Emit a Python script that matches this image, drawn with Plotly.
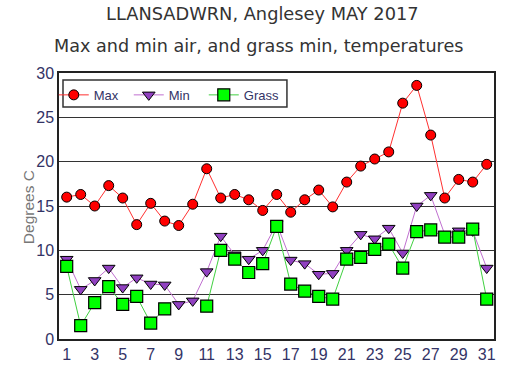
import plotly.graph_objects as go

days = list(range(1, 32))
max_temp = [16.0, 16.3, 15.0, 17.3, 15.9, 12.9, 15.3, 13.3, 12.8, 15.2,
            19.2, 15.9, 16.3, 15.7, 14.5, 16.3, 14.3, 15.7, 16.8, 14.9,
            17.7, 19.5, 20.3, 21.1, 26.6, 28.6, 23.0, 15.9, 18.0, 17.7, 19.7]
min_temp = [9.0, 5.6, 6.6, 8.0, 5.8, 6.9, 6.2, 6.1, 3.9, 4.3,
            7.6, 11.6, 9.5, 9.0, 10.0, 13.0, 8.9, 8.5, 7.3, 7.4,
            10.0, 11.8, 11.3, 12.5, 9.7, 15.0, 16.2, 11.8, 12.2, 12.2, 8.0]
grass_temp = [8.2, 1.5, 4.1, 5.9, 3.9, 4.8, 1.8, 3.4, None, None,
              3.7, 10.0, 9.0, 7.5, 8.5, 12.7, 6.2, 5.4, 4.8, 4.5,
              9.0, 9.2, 10.1, 10.7, 8.0, 12.1, 12.3, 11.5, 11.5, 12.4, 4.5]
x_ticks = list(range(1, 32, 2))
y_ticks = [0, 5, 10, 15, 20, 25, 30]

fig = go.Figure()
fig.add_trace(go.Scatter(x=days, y=max_temp, name="Max", mode="lines+markers",
                         line=dict(color="#ff3030", width=1),
                         marker=dict(symbol="circle", size=10, color="#ff0000",
                                     line=dict(color="#000000", width=1))))
fig.add_trace(go.Scatter(x=days, y=min_temp, name="Min", mode="lines+markers",
                         line=dict(color="#c070d0", width=1),
                         marker=dict(symbol="triangle-down", size=11, color="#9040c0",
                                     line=dict(color="#000000", width=1))))
fig.add_trace(go.Scatter(x=days, y=grass_temp, name="Grass", mode="lines+markers",
                         line=dict(color="#40d040", width=1),
                         marker=dict(symbol="square", size=12, color="#00ff00",
                                     line=dict(color="#000000", width=1.2))))

tick_font = dict(family="Liberation Sans, Arial, sans-serif", size=16, color="#333366")

fig.update_layout(
    width=516, height=376,
    margin=dict(l=59, r=22, t=73, b=37),
    paper_bgcolor="white", plot_bgcolor="white",
    showlegend=True,
    legend=dict(orientation="h", x=-0.012, y=0.974, xanchor="left", yanchor="top",
                borderwidth=0, bgcolor="rgba(0,0,0,0)",
                entrywidth=30, entrywidthmode="pixels", itemwidth=30,
                font=dict(family="Liberation Sans, Arial, sans-serif", size=13, color="#333366")),
    xaxis=dict(range=[0.45, 31.52], tickmode="array", tickvals=x_ticks, automargin=False,
               showgrid=False, zeroline=False, showline=True, mirror=True,
               linecolor="#222222", linewidth=1.5, ticks="", tickfont=tick_font),
    yaxis=dict(range=[0, 30], tickmode="array", tickvals=y_ticks, automargin=False,
               showgrid=True, gridcolor="#333333", gridwidth=1, zeroline=False,
               showline=True, mirror=True, linecolor="#222222", linewidth=1.5,
               ticks="", tickfont=tick_font),
    shapes=[dict(type="rect", xref="paper", yref="paper", x0=0.0092, x1=0.524,
                 y0=0.872, y1=0.974, line=dict(color="#333333", width=1.5),
                 fillcolor="white", layer="above")],
    annotations=[
        dict(text="LLANSADWRN, Anglesey MAY 2017", xref="paper", yref="paper",
             x=0.468, y=1.224, showarrow=False, xanchor="center", yanchor="middle",
             font=dict(family="DejaVu Sans, Verdana, sans-serif", size=17.8, color="#333333")),
        dict(text="Max and min air, and grass min, temperatures", xref="paper", yref="paper",
             x=0.4586, y=1.101, showarrow=False, xanchor="center", yanchor="middle",
             font=dict(family="DejaVu Sans, Verdana, sans-serif", size=17.6, color="#333333")),
        dict(text="Degrees C", xref="paper", yref="paper", x=-0.071, y=0.496,
             showarrow=False, textangle=-90, xanchor="center", yanchor="middle",
             font=dict(family="Liberation Sans, Arial, sans-serif", size=15.5, color="#777777")),
    ],
)

fig.write_html("out.html", config={"displayModeBar": False},
               post_script="document.body.style.margin='0';document.body.style.overflow='hidden';")
